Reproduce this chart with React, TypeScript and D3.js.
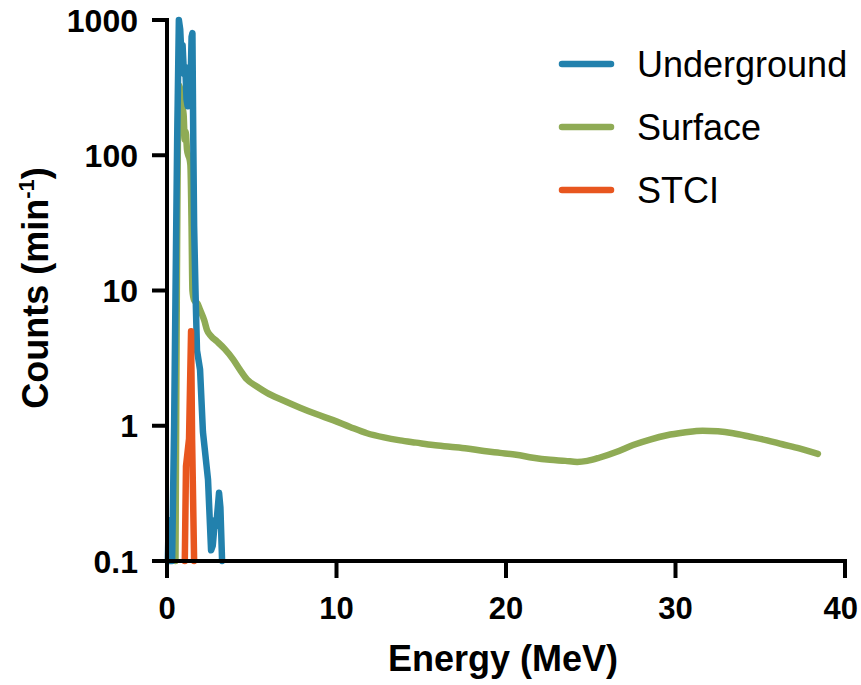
import React from "react";
import * as d3 from "d3";

const undergroundE = [0.05, 0.1, 0.22, 0.3, 0.42, 0.5, 0.6, 0.7, 0.78, 0.85, 0.92, 1.0, 1.08, 1.15, 1.22, 1.3, 1.38, 1.45, 1.5, 1.55, 1.6, 1.68, 1.77, 1.95, 2.12, 2.42, 2.6, 2.7, 2.83, 2.9, 3.07, 3.15, 3.25];
const undergroundC = [0.1, 0.2, 0.1, 0.1, 1, 9, 130, 1000, 850, 550, 650, 400, 450, 260, 230, 400, 300, 750, 800, 130, 30, 10, 3.6, 2.6, 0.9, 0.4, 0.12, 0.13, 0.2, 0.18, 0.32, 0.25, 0.1];

const surfaceE = [0.5, 0.58, 0.7, 0.8, 0.9, 0.98, 1.05, 1.1, 1.18, 1.25, 1.32, 1.38, 1.45, 1.5, 1.6, 1.8, 1.95, 2.2, 2.36, 2.6, 2.95, 3.4, 3.9, 4.3, 4.72, 5.3, 5.9, 6.8, 7.85, 8.8, 9.8, 10.8, 11.8, 12.8, 13.75, 14.7, 15.7, 16.7, 17.7, 18.7, 19.65, 20.6, 21.6, 22.6, 23.5, 24.2, 24.8, 25.5, 26.5, 27.5, 28.5, 29.5, 30.5, 31.6, 32.5, 33.4, 34.4, 35.4, 36.3, 37.3, 38.4];
const surfaceC = [0.1, 10, 330, 300, 230, 200, 130, 150, 110, 100, 95, 85, 30, 10, 8.5, 8, 7.2, 6, 5.1, 4.6, 4.2, 3.7, 3.1, 2.6, 2.2, 1.95, 1.75, 1.55, 1.36, 1.22, 1.1, 0.98, 0.88, 0.82, 0.78, 0.75, 0.72, 0.7, 0.68, 0.65, 0.63, 0.61, 0.58, 0.56, 0.55, 0.54, 0.55, 0.58, 0.64, 0.72, 0.79, 0.85, 0.89, 0.92, 0.91, 0.88, 0.83, 0.78, 0.73, 0.68, 0.62];

const stciE = [1.05, 1.12, 1.3, 1.42, 1.48, 1.6];
const stciC = [0.1, 0.5, 0.8, 5, 0.8, 0.1];

const xTicks = [0, 10, 20, 30, 40];
const yTicks = [0.1, 1, 10, 100, 1000];
const yTickLabels = ["0.1", "1", "10", "100", "1000"];

const seriesNames = ["Underground", "Surface", "STCI"];
const seriesColors = ["#2281ad", "#8fab55", "#e8561f"];

export default function App() {
  const W = 861, H = 685;
  const left = 167, right = 845, top = 20, bottom = 561;
  const x = d3.scaleLinear().domain([0, 40]).range([left, right]);
  const y = d3.scaleLog().domain([0.1, 1000]).range([bottom, top]);

  const toPts = (es: number[], cs: number[]) => es.map((e, i) => [e, cs[i]] as [number, number]);
  const lineLin = d3.line<[number, number]>().x(d => x(d[0])).y(d => y(d[1])).curve(d3.curveLinear);
  const lineSmooth = d3.line<[number, number]>().x(d => x(d[0])).y(d => y(d[1])).curve(d3.curveMonotoneX);

  const font = "'Liberation Sans', Arial, Helvetica, sans-serif";
  const lw = 6.5;
  const aw = 4;

  return (
    <svg width={W} height={H} style={{ position: "absolute", left: 0, top: 0, background: "#fff" }} fontFamily={font}>
      <rect width={W} height={H} fill="#fff" />
      {/* data lines */}
      <path d={lineSmooth(toPts(surfaceE, surfaceC)) || ""} fill="none" stroke={seriesColors[1]} strokeWidth={lw} strokeLinejoin="round" strokeLinecap="round" />
      <path d={lineLin(toPts(undergroundE, undergroundC)) || ""} fill="none" stroke={seriesColors[0]} strokeWidth={lw} strokeLinejoin="round" strokeLinecap="round" />
      <path d={lineLin(toPts(stciE, stciC)) || ""} fill="none" stroke={seriesColors[2]} strokeWidth={lw} strokeLinejoin="round" strokeLinecap="round" />

      {/* axes */}
      <line x1={left} x2={right} y1={bottom} y2={bottom} stroke="#000" strokeWidth={aw} strokeLinecap="square" />
      <line x1={left} x2={left} y1={top} y2={bottom} stroke="#000" strokeWidth={aw} strokeLinecap="square" />
      {xTicks.map((t, i) => {
        const last = i === xTicks.length - 1;
        return (
          <g key={"xt" + t}>
            <line x1={x(t)} x2={x(t)} y1={bottom} y2={bottom + 17} stroke="#000" strokeWidth={aw} />
            <text x={last ? W - 3 : x(t)} y={619} textAnchor={last ? "end" : "middle"} fontSize={31} fontWeight="bold" fill="#000">{t}</text>
          </g>
        );
      })}
      {yTicks.map((t, i) => (
        <g key={"yt" + t}>
          <line x1={left - 15} x2={left} y1={y(t)} y2={y(t)} stroke="#000" strokeWidth={aw} />
          <text x={138} y={y(t)} dy="0.36em" textAnchor="end" fontSize={32} fontWeight="bold" fill="#000">{yTickLabels[i]}</text>
        </g>
      ))}

      {/* axis titles */}
      <text x={503} y={671} textAnchor="middle" fontSize={36} fontWeight="bold" fill="#000">Energy (MeV)</text>
      <text transform={`translate(48, 288) rotate(-90)`} textAnchor="middle" fontSize={36} fontWeight="bold" fill="#000">
        Counts (min<tspan fontSize={22} dy={-14}>-1</tspan><tspan dy={14}>)</tspan>
      </text>

      {/* legend */}
      {seriesNames.map((n, i) => {
        const ly = 64 + i * 63;
        return (
          <g key={n}>
            <line x1={562} x2={611} y1={ly} y2={ly} stroke={seriesColors[i]} strokeWidth={6.5} strokeLinecap="round" />
            <text x={637} y={ly} dy="0.36em" fontSize={36} fill="#000">{n}</text>
          </g>
        );
      })}
    </svg>
  );
}
